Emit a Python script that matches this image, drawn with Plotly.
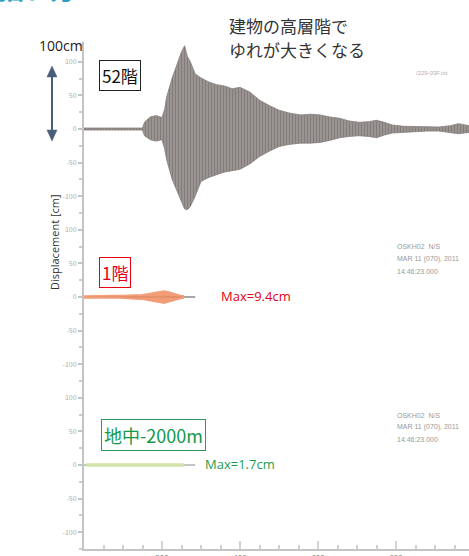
import plotly.graph_objects as go

# ---------------- data ----------------
# 52F (top) displacement envelope, cm
t_52 = [0, 150, 155, 170, 185, 200, 207, 212, 226, 240, 250, 258, 265, 272, 285, 300, 320, 340, 360, 380,
        400, 425, 450, 475, 500, 525, 555, 580, 605, 630, 655, 680, 705, 730, 750, 770, 790, 820, 850, 880,
        910, 940, 960, 987]
up_52 = [1.5, 1.5, 10, 18, 20, 17, 30, 48, 76, 100, 115, 124, 108, 101, 82, 76, 70, 66, 64, 60,
         62, 55, 43, 35, 28, 24, 21, 22, 21, 18, 16, 12, 10, 11, 13, 10, 6, 4, 4, 3,
         3, 5, 8, 5]
lo_52 = [-1.5, -1.5, -10, -16, -18, -16, -30, -46, -75, -95, -108, -119, -120, -116, -100, -78, -72, -68, -64, -62,
         -60, -52, -41, -33, -26, -23, -21, -21, -20, -17, -13, -11, -10, -11, -13, -9, -6, -4, -4, -3,
         -3, -5, -7, -5]

# 1F envelope, cm (max 9.4)
t_1f = [0, 90, 110, 130, 150, 165, 175, 185, 195, 205, 215, 225, 235, 245, 255]
up_1f = [1.5, 1.5, 2.5, 3, 3.5, 5, 6, 6, 7, 9, 8, 6, 4, 2.5, 1.5]
lo_1f = [-1.5, -1.5, -2.5, -3, -3.5, -5, -6, -7, -8, -9.4, -8, -6, -4, -2.5, -1.5]

# -2000m envelope, cm (max 1.7)
t_gd = [5, 60, 100, 140, 180, 220, 255]
up_gd = [1.0, 1.2, 1.5, 1.7, 1.5, 1.2, 1.0]
lo_gd = [-1.0, -1.2, -1.5, -1.7, -1.5, -1.2, -1.0]

record_end = [0, 285]          # extent of the grey base trace in lower panels
panel_offsets = [0, -250, -500]
ytick_values = [100, 50, 0, -50, -100]
ytick_labels = ["100", "50", "0", "-50", "-100"]
xtick_values = [200, 400, 600, 800]
xtick_labels = ["200", "400", "600", "800"]

# ---------------- figure ----------------
W, H = 469, 556
L, R, T, B = 84, 0, 42, 7


def px(x):
    return (x - L) / (W - L - R)


def py(y):
    return (H - B - y) / (H - T - B)


fig = go.Figure()


def band(t, up, lo, off, **kw):
    xs = list(t) + list(t[::-1])
    ys = [v + off for v in up] + [v + off for v in lo[::-1]]
    fig.add_trace(go.Scatter(x=xs, y=ys, fill="toself", mode="lines", hoverinfo="skip",
                             showlegend=False, **kw))


# 52F
band(t_52, up_52, lo_52, panel_offsets[0],
     line=dict(color="#857e7c", width=0.8),
     fillcolor="#8c8583",
     fillpattern=dict(shape="|", size=3, solidity=0.5, fgcolor="#645d5b", bgcolor="#a09a98"))

# 1F base grey + orange
fig.add_trace(go.Scatter(x=record_end, y=[panel_offsets[1]] * 2, mode="lines",
                         line=dict(color="#a8a8a8", width=2), showlegend=False, hoverinfo="skip"))
band(t_1f, up_1f, lo_1f, panel_offsets[1], line=dict(color="#f2a07c", width=1.5),
     fillcolor="rgba(240,140,95,0.85)")

# -2000m base grey + green
fig.add_trace(go.Scatter(x=record_end, y=[panel_offsets[2]] * 2, mode="lines",
                         line=dict(color="#c4c4c4", width=2), showlegend=False, hoverinfo="skip"))
band(t_gd, up_gd, lo_gd, panel_offsets[2], line=dict(color="#d2e2aa", width=2),
     fillcolor="#d2e2aa")

tickvals, ticktext = [], []
for off in panel_offsets:
    for v, s in zip(ytick_values, ytick_labels):
        tickvals.append(v + off)
        ticktext.append(s)

fig.update_layout(
    width=W, height=H,
    margin=dict(l=L, r=R, t=T, b=B),
    paper_bgcolor="white", plot_bgcolor="white",
    showlegend=False,
    font=dict(family="Noto Sans CJK JP, Noto Sans, sans-serif"),
    xaxis=dict(range=[0, 987], automargin=False, showgrid=False, zeroline=False, showline=True,
               linecolor="#c4c4c4", linewidth=2,
               tickvals=xtick_values, ticktext=xtick_labels,
               ticks="inside", ticklen=8, tickcolor="#d4d4d4", tickwidth=1.5,
               minor=dict(ticks="inside", ticklen=4, dtick=50, tick0=0, tickcolor="#d0d0d0"),
               tickfont=dict(size=8, color="#777777")),
    yaxis=dict(range=[-625, 129.5], automargin=False, showgrid=False, zeroline=False, showline=True,
               linecolor="#c4c4c4", linewidth=2,
               tickvals=tickvals, ticktext=ticktext,
               ticks="outside", ticklen=4, tickcolor="#c4c4c4", tickwidth=1.5,
               minor=dict(ticks="outside", ticklen=3, dtick=25, tick0=0, tickcolor="#cccccc"),
               tickfont=dict(size=7, color="#aaaaaa")),
)


def ann(text, x, y, xa="left", ya="middle", size=12, color="#222", **kw):
    fig.add_annotation(text=text, x=px(x), y=py(y), xref="paper", yref="paper",
                       xanchor=xa, yanchor=ya, showarrow=False,
                       font=dict(size=size, color=color, family=kw.pop("family", "Noto Sans CJK JP")), **kw)


# cut-off heading at top-left
ann("<b>揺れ方</b>", -4, 8, xa="left", ya="bottom", size=26, color="#2a9fc2")

ann("建物の高層階で", 227, 25, size=17, color="#333333")
ann("ゆれが大きくなる", 227, 50, size=17, color="#333333")
ann("100cm", 61, 45, xa="center", size=14, color="#222222", family="Open Sans")

ann("52階", 119.5, 75, xa="center", size=17, color="#111111",
    bordercolor="#222222", borderwidth=1, borderpad=2, bgcolor="white")
ann("1階", 115, 272.5, xa="center", size=17, color="#e60012",
    bordercolor="#e60012", borderwidth=1, borderpad=2, bgcolor="white")
ann("地中-2000m", 153.5, 435, xa="center", size=18, color="#12994a",
    bordercolor="#2a9a5a", borderwidth=1, borderpad=2, bgcolor="white")

ann("Max=9.4cm", 219, 296, size=13, color="#e60012", family="Open Sans")
ann("Max=1.7cm", 203, 464, size=13, color="#1aa050", family="Open Sans")

ann("Displacement [cm]", 54, 242, xa="center", size=11, color="#333333", textangle=-90,
    family="Open Sans")

ann("/229-03F.txt", 414, 73, size=6, color="#b0b0b0", family="Liberation Sans")
for y0 in (247, 415):
    ann("OSKH02  N/S", 395, y0, size=7, color="#999999", family="Liberation Sans")
    ann("MAR 11 (070), 2011", 395, y0 + 12, size=7, color="#999999", family="Liberation Sans")
    ann("14:46:23.000", 395, y0 + 24, size=7, color="#999999", family="Liberation Sans")

# double arrow
ac = "#4a5d78"
fig.add_shape(type="line", xref="paper", yref="paper", x0=px(52), x1=px(52), y0=py(74), y1=py(133),
              line=dict(color=ac, width=2))
for tip, base in ((66, 77), (141, 130)):
    path = "M {:.5f},{:.5f} L {:.5f},{:.5f} L {:.5f},{:.5f} Z".format(
        px(52), py(tip), px(47), py(base), px(57), py(base))
    fig.add_shape(type="path", xref="paper", yref="paper", path=path,
                  fillcolor=ac, line=dict(color=ac, width=0.5))

fig.write_html("out.html", config={"displayModeBar": False},
               post_script="document.body.style.margin='0';")
